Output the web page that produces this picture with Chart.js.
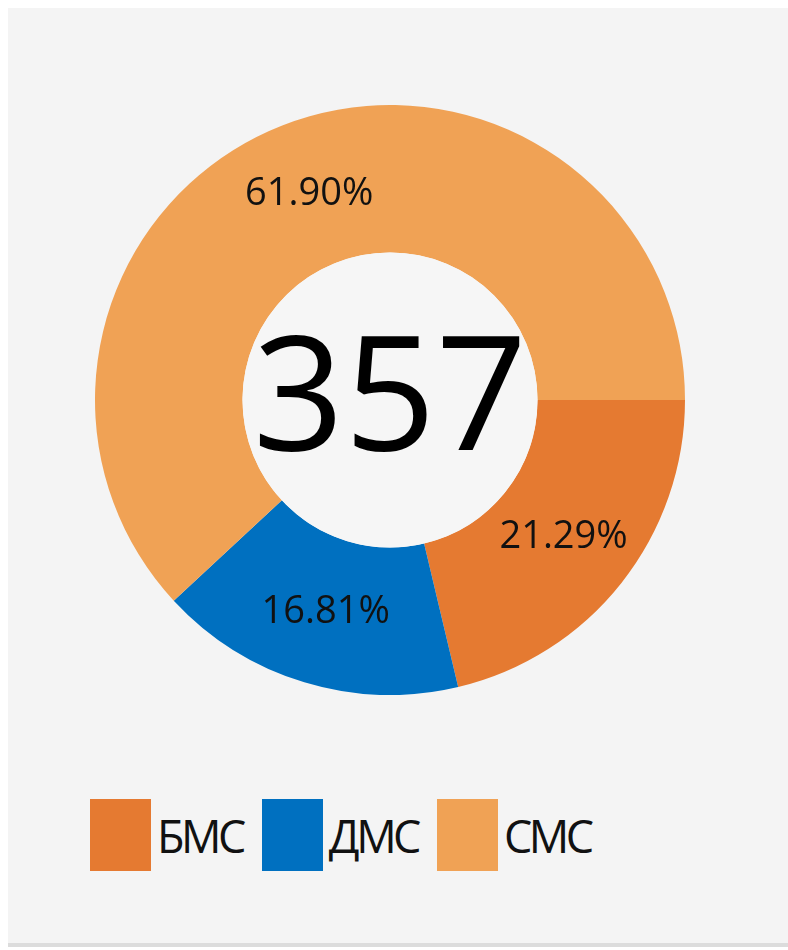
<!DOCTYPE html>
<html>
<head>
<meta charset="utf-8">
<script src="https://cdn.jsdelivr.net/npm/chart.js@4"></script>
<style>
    html, body { margin: 0; padding: 0; background: #fff; }
    #panel {
        position: absolute; left: 8px; top: 8px; width: 780px; height: 935px;
        background: #f4f4f4; border-bottom: 4px solid #dcdcdc;
    }
    #chartBox { position: absolute; left: 87px; top: 97px; width: 590px; height: 590px; }
    #legend {
        position: absolute; left: 82px; top: 791px; display: flex;
        font-family: "Open Sans", sans-serif; font-size: 45px; color: #111;
        letter-spacing: -3.5px;
    }
    .item { display: flex; align-items: center; margin-right: 19px; }
    .swatch { width: 61px; height: 72px; margin-right: 6px; }
</style>
</head>
<body>
<div id="panel">
    <div id="chartBox"><canvas id="pieChart"></canvas></div>
    <div id="legend"></div>
</div>
<script>
const categories = ['БМС', 'ДМС', 'СМС'];
const counts = [76, 60, 221];
const colors = ['#e57a31', '#0070c0', '#f0a255'];

const total = counts.reduce((a, b) => a + b, 0);

// percentage labels on each slice + total in the hole
const sliceLabels = {
    id: 'sliceLabels',
    afterDatasetsDraw(chart) {
        const ctx = chart.ctx;
        const meta = chart.getDatasetMeta(0);
        ctx.save();
        ctx.textAlign = 'center';
        ctx.textBaseline = 'middle';
        ctx.fillStyle = '#111';
        ctx.font = '38px "Open Sans", sans-serif';
        meta.data.forEach((arc, i) => {
            const p = arc.tooltipPosition();
            ctx.fillText((counts[i] / total * 100).toFixed(2) + '%', p.x, p.y);
        });
        const c = meta.data[0];
        ctx.beginPath();
        ctx.arc(c.x, c.y, c.innerRadius, 0, Math.PI * 2);
        ctx.fillStyle = '#f6f6f6';
        ctx.fill();
        ctx.fillStyle = '#000';
        ctx.font = '160px "Open Sans", sans-serif';
        ctx.fillText(String(total), c.x, c.y + 4);
        ctx.restore();
    }
};

new Chart(document.getElementById('pieChart'), {
    type: 'doughnut',
    data: {
        labels: categories,
        datasets: [{
            data: counts,
            backgroundColor: colors,
            borderWidth: 0
        }]
    },
    options: {
        responsive: true,
        maintainAspectRatio: false,
        animation: false,
        rotation: 90,
        cutout: '50%',
        layout: { padding: 0 },
        plugins: {
            legend: { display: false },
            tooltip: { enabled: false }
        }
    },
    plugins: [sliceLabels]
});

// legend built from the same arrays
const legend = document.getElementById('legend');
categories.forEach((name, i) => {
    const item = document.createElement('div');
    item.className = 'item';
    item.innerHTML = '<div class="swatch" style="background:' + colors[i] + '"></div><span>' + name + '</span>';
    legend.appendChild(item);
});
</script>
</body>
</html>
